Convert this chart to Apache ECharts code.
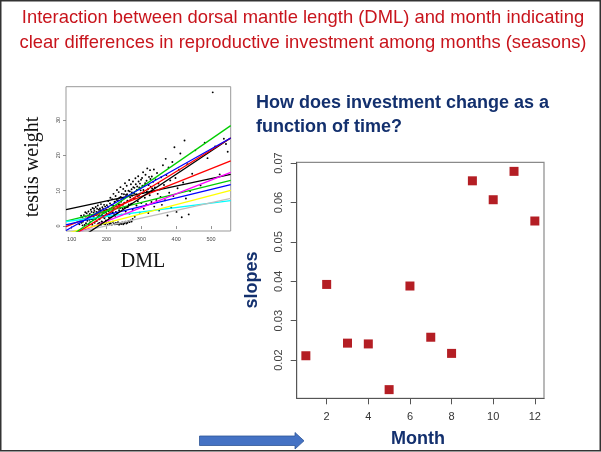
<!DOCTYPE html>
<html>
<head>
<meta charset="utf-8">
<script src="https://cdn.jsdelivr.net/npm/echarts@6/dist/echarts.min.js"></script>
<style>
  html, body { margin: 0; padding: 0; background: #fff; }
  #chart { width: 601px; height: 452px; }
</style>
</head>
<body>
<div id="chart"></div>
<script>
// Monthly slopes of testis weight on DML (right panel) and the per-month fits (left panel)
const months = [1, 2, 3, 4, 5, 6, 7, 8, 9, 10, 11, 12];
const slopes = [0.0211, 0.0392, 0.0243, 0.0241, 0.0125, 0.0388, 0.0258, 0.0217, 0.0655, 0.0607, 0.0679, 0.0553];
const intercepts = [2.86, -3.42, -0.63, -1.71, 0.24, -6.40, -4.26, -4.28, -11.56, -8.89, -9.39, -5.88];
const lineColors = ['#000000', '#FF0000', '#00CD00', '#0000FF', '#00FFFF', '#FF00FF', '#FFFF00', '#BEBEBE',
                    '#000000', '#FF0000', '#00CD00', '#0000FF'];

// Individual squid: [DML, testis weight]
const squid = [
  [122,0.5],[125,1.8],[128,0.9],[130,2.4],[132,1.2],[135,3.1],[137,0.3],[138,1.9],[140,2.7],[141,0.8],
  [143,3.6],[145,1.5],[146,2.2],[148,4.1],[149,0.6],[150,2.9],[152,3.4],[153,1.1],[155,4.6],[156,2.0],
  [158,3.0],[159,0.4],[160,5.1],[161,1.7],[163,3.8],[164,2.5],[165,4.3],[166,0.9],[168,3.2],[169,5.4],
  [170,2.1],[171,4.0],[172,1.4],[174,3.5],[175,5.8],[176,2.8],[177,0.7],[178,4.6],[179,3.1],[180,1.9],
  [181,5.0],[182,3.9],[183,2.4],[184,6.2],[185,4.4],[186,1.3],[187,3.3],[188,5.3],[189,2.7],[190,4.8],
  [191,0.9],[192,3.7],[193,6.0],[194,2.2],[195,4.1],[196,5.5],[197,3.0],[198,1.6],[199,4.7],[200,3.4],
  [127,2.9],[131,0.2],[134,1.9],[139,3.9],[142,2.1],[147,3.0],[151,1.8],[154,2.6],[157,4.0],[162,2.9],
  [164,4.9],[167,1.9],[171,3.2],[173,4.9],[176,3.9],[179,2.3],[182,4.5],[185,2.9],[188,3.8],[190,2.5],
  [193,4.4],[196,2.7],[198,3.9],[202,4.6],[204,5.4],[207,2.4],[209,4.9],[212,3.8],[214,6.0],[217,4.5],
  [219,5.8],[222,3.3],[224,6.9],[227,4.0],[229,7.4],[232,5.3],[234,6.2],[237,8.0],[239,5.1],[242,6.9],
  [244,9.1],[247,6.0],[249,7.8],[252,5.3],[254,9.9],[257,6.7],[259,9.0],[262,8.4],[264,6.1],[267,9.8],
  [269,7.4],[272,10.4],[274,8.6],[277,11.0],[279,9.3],[282,7.9],[284,11.8],[287,10.2],[289,8.5],[292,12.6],
  [294,10.9],[297,9.2],[299,13.1],[303,11.4],[306,10.2],[311,12.1],[316,9.8],[321,11.6],[326,13.3],[331,10.6],
  [176,0.6],[180,0.9],[184,0.4],[188,1.1],[192,0.7],[196,0.5],[200,0.9],[203,0.3],[206,1.0],[209,0.6],
  [212,0.8],[215,0.4],[218,1.2],[221,0.7],[224,0.5],[227,0.9],[230,0.6],[233,1.1],[236,0.4],[239,0.8],
  [242,0.6],[245,1.0],[248,0.5],[251,0.8],[254,1.2],[257,0.7],[260,0.9],[263,1.4],[266,1.1],[269,1.6],
  [272,1.3],[275,2.0],
  [201,5.9],[203,2.8],[205,7.1],[206,4.2],[208,3.3],[210,6.4],[211,8.0],[213,2.5],[215,5.2],[216,7.6],
  [218,3.9],[220,9.1],[221,4.8],[223,6.8],[225,2.9],[226,8.5],[228,5.6],[230,10.2],[231,3.6],[233,7.3],
  [235,9.6],[236,4.5],[238,6.1],[240,11.0],[241,8.2],[243,3.2],[245,7.9],[246,5.0],[248,10.5],[250,9.0],
  [251,6.6],[253,12.1],[255,4.1],[256,8.8],[258,11.4],[260,7.2],[261,5.4],[263,10.0],[265,13.0],[266,3.5],
  [268,8.1],[270,11.8],[271,6.3],[273,9.5],[275,4.6],[276,12.6],[278,7.7],[280,10.8],[281,2.6],[283,13.5],
  [285,9.0],[286,5.8],[288,11.2],[290,7.0],[291,14.1],[293,8.6],[295,3.8],[296,12.0],[298,10.1],[300,6.5],
  [302,13.6],[304,9.3],[305,15.2],[307,4.9],[309,11.5],[310,8.0],[312,14.5],[314,6.2],[315,12.8],[317,16.3],
  [319,10.4],[320,3.7],[322,13.9],[324,8.7],[325,15.8],[327,11.1],[329,6.8],[330,14.0],[332,9.8],[334,12.5],
  [336,16.0],[337,5.5],[339,10.9],[341,13.2],[343,7.4],[345,15.0],[347,9.1],[349,12.0],[351,4.4],[353,10.3],
  [355,8.2],[357,13.8],[359,6.0],
  [362,17.2],[365,11.6],[368,7.3],[370,19.0],[372,14.4],[375,3.0],[378,16.6],[380,9.4],[383,12.9],[386,5.2],
  [389,18.1],[392,8.5],[395,22.3],[398,13.6],[401,4.0],[404,10.7],[408,15.9],[412,20.5],[416,2.5],[420,12.3],
  [424,24.2],[428,7.8],[432,17.5],[436,3.3],[440,9.9],[446,14.8],
  [455,21.4],[470,11.5],[482,23.6],[490,19.2],[505,37.8],[512,22.5],[525,14.6],[537,24.7],[543,23.2],[548,21.0]
];

// Axis ranges and tick positions
const dmlRange = [83.6, 556.6];
const dmlTicks = [100, 200, 300, 400, 500];
const weightRange = [-1.4, 39.4];
const weightTicks = [0, 10, 20, 30];
const monthRange = [0.56, 12.44];
const monthTicks = [2, 4, 6, 8, 10, 12];
const slopeRange = [0.0103, 0.0702];
const slopeTicks = [0.02, 0.03, 0.04, 0.05, 0.06, 0.07];

const navy = '#13306E';
const red = '#C8141C';

const fitSeries = months.map((m, i) => ({
  type: 'line',
  xAxisIndex: 0,
  yAxisIndex: 0,
  symbol: 'none',
  silent: true,
  clip: true,
  lineStyle: { color: lineColors[i], width: 1.3 },
  data: dmlRange.map(x => [x, intercepts[i] + slopes[i] * x]),
  z: 3
}));

const chart = echarts.init(document.getElementById('chart'), null, { renderer: 'canvas' });
chart.setOption({
  animation: false,
  backgroundColor: '#ffffff',
  grid: [
    { left: 66, top: 86.7, width: 164.7, height: 144.3, show: true, borderColor: '#999', borderWidth: 1, backgroundColor: 'transparent' },
    { left: 296.7, top: 162.3, width: 247.3, height: 236, show: true, borderColor: '#8a8a8a', borderWidth: 1.2, backgroundColor: 'transparent' }
  ],
  xAxis: [
    {
      gridIndex: 0, type: 'value', min: dmlRange[0], max: dmlRange[1],
      axisLine: { show: false },
      axisTick: { show: true, customValues: dmlTicks, length: 3, inside: false, lineStyle: { color: '#777', width: 0.8 } },
      axisLabel: { customValues: dmlTicks, fontSize: 5.5, color: '#444', margin: 5, fontFamily: 'Liberation Sans' },
      splitLine: { show: false }
    },
    {
      gridIndex: 1, type: 'value', min: monthRange[0], max: monthRange[1],
      axisLine: { show: true, lineStyle: { color: '#555', width: 1 } },
      axisTick: { show: true, customValues: monthTicks, length: 6, lineStyle: { color: '#555', width: 1 } },
      axisLabel: { customValues: monthTicks, fontSize: 11, color: '#333', margin: 13, fontFamily: 'Liberation Sans' },
      splitLine: { show: false }
    }
  ],
  yAxis: [
    {
      gridIndex: 0, type: 'value', min: weightRange[0], max: weightRange[1],
      axisLine: { show: false },
      axisTick: { show: true, customValues: weightTicks, length: 3, lineStyle: { color: '#777', width: 0.8 } },
      axisLabel: { customValues: weightTicks, fontSize: 5.5, color: '#444', margin: 5, rotate: 90, fontFamily: 'Liberation Sans' },
      splitLine: { show: false }
    },
    {
      gridIndex: 1, type: 'value', min: slopeRange[0], max: slopeRange[1],
      axisLine: { show: true, lineStyle: { color: '#555', width: 1 } },
      axisTick: { show: true, customValues: slopeTicks, length: 6, lineStyle: { color: '#555', width: 1 } },
      axisLabel: {
        customValues: slopeTicks, fontSize: 11, color: '#444', margin: 12, rotate: 90,
        fontFamily: 'Liberation Sans', formatter: v => v.toFixed(2)
      },
      splitLine: { show: false }
    }
  ],
  series: [
    {
      type: 'scatter', xAxisIndex: 0, yAxisIndex: 0, silent: true,
      symbol: 'circle', symbolSize: 1.9,
      itemStyle: { color: '#000', opacity: 1 },
      data: squid, z: 2
    },
    ...fitSeries,
    {
      type: 'scatter', xAxisIndex: 1, yAxisIndex: 1, silent: true,
      symbol: 'rect', symbolSize: 9,
      itemStyle: { color: '#B41E24', opacity: 1 },
      data: months.map((m, i) => [m, slopes[i]]), z: 4
    }
  ],
  graphic: [
    // slide frame
    { type: 'rect', shape: { x: 0.75, y: 0.75, width: 599.5, height: 450 }, style: { fill: 'none', stroke: '#333', lineWidth: 1.5 }, silent: true },
    // heading
    { type: 'text', x: 303, y: 18, style: { text: 'Interaction between dorsal mantle length (DML) and month indicating', font: '18.4px "Liberation Sans", Arial, sans-serif', fill: red, align: 'center', verticalAlign: 'middle' } },
    { type: 'text', x: 303, y: 42.5, style: { text: 'clear differences in reproductive investment among months (seasons)', font: '18.4px "Liberation Sans", Arial, sans-serif', fill: red, align: 'center', verticalAlign: 'middle' } },
    // question beside the slopes panel
    { type: 'text', x: 256, y: 103, style: { text: 'How does investment change as a', font: 'bold 18px "Liberation Sans", Arial, sans-serif', fill: navy, align: 'left', verticalAlign: 'middle' } },
    { type: 'text', x: 256, y: 127, style: { text: 'function of time?', font: 'bold 18px "Liberation Sans", Arial, sans-serif', fill: navy, align: 'left', verticalAlign: 'middle' } },
    // axis titles of the fits panel
    { type: 'text', x: 33, y: 167, rotation: Math.PI / 2, style: { text: 'testis weight', font: '20px "Liberation Serif", "Times New Roman", serif', fill: '#111', align: 'center', verticalAlign: 'middle' } },
    { type: 'text', x: 143, y: 262, style: { text: 'DML', font: '20px "Liberation Serif", "Times New Roman", serif', fill: '#111', align: 'center', verticalAlign: 'middle' } },
    // axis titles of the slopes panel
    { type: 'text', x: 252, y: 280, rotation: Math.PI / 2, style: { text: 'slopes', font: 'bold 18px "Liberation Sans", Arial, sans-serif', fill: navy, align: 'center', verticalAlign: 'middle' } },
    { type: 'text', x: 418, y: 439, style: { text: 'Month', font: 'bold 18px "Liberation Sans", Arial, sans-serif', fill: navy, align: 'center', verticalAlign: 'middle' } },
    // arrow towards the month axis
    { type: 'polygon', shape: { points: [[199.5, 436], [295, 436], [295, 432.5], [304, 440.8], [295, 449], [295, 445.5], [199.5, 445.5]] },
      style: { fill: '#4472C4', stroke: '#2F5597', lineWidth: 0.8 }, silent: true }
  ]
});
</script>
</body>
</html>
